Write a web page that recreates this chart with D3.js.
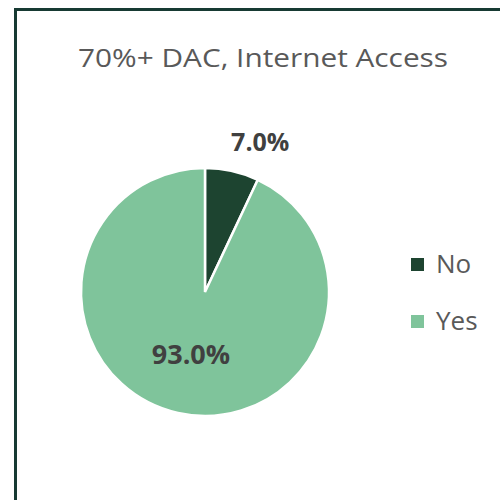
<!DOCTYPE html>
<html>
<head>
<meta charset="utf-8">
<script src="https://cdn.jsdelivr.net/npm/d3@7"></script>
<style>
  body { margin: 0; background: #fff; }
  text { font-family: "Open Sans", "Liberation Sans", sans-serif; }
</style>
</head>
<body>
<script>
// data
const categories = ['No', 'Yes'];
const values = [7.0, 93.0];
const colors = ['#1d4430', '#7fc49b'];
const title = '70%+ DAC, Internet Access';

const W = 500, H = 500;
const svg = d3.select('body').append('svg')
    .attr('width', W)
    .attr('height', H);

// chart frame (runs past the right/bottom edge)
svg.append('rect')
    .attr('x', 15.5).attr('y', 9.5)
    .attr('width', 520).attr('height', 520)
    .attr('fill', '#fff')
    .attr('stroke', '#173a33')
    .attr('stroke-width', 3);

svg.append('text')
    .attr('x', 78).attr('y', 67)
    .attr('font-size', 25)
    .attr('fill', '#595959')
    .attr('textLength', 370)
    .attr('lengthAdjust', 'spacingAndGlyphs')
    .text(title);

const cx = 205, cy = 292, r = 124;
const data = categories.map((c, i) => ({ cat: c, val: values[i], color: colors[i] }));

const pie = d3.pie().sort(null).value(d => d.val);
const arc = d3.arc().innerRadius(0).outerRadius(r);
const arcs = pie(data);

const g = svg.append('g').attr('transform', `translate(${cx},${cy})`);
g.selectAll('path')
    .data(arcs)
    .join('path')
    .attr('d', arc)
    .attr('fill', d => d.data.color)
    .attr('stroke', '#fff')
    .attr('stroke-width', 2.5);

// labels: No outside (box anchored at the rim), Yes inside
const fmt = v => v.toFixed(1) + '%';
const outArc = d3.arc().innerRadius(r + 14).outerRadius(r + 14);
const inArc = d3.arc().innerRadius(r * 0.52).outerRadius(r * 0.52);
g.selectAll('text.lbl')
    .data(arcs)
    .join('text')
    .attr('class', 'lbl')
    .attr('transform', (d, i) => {
        if (i === 0) {
            const p = outArc.centroid(d);
            return `translate(${p[0] - 4},${p[1] - 6})`;
        }
        const p = inArc.centroid(d);
        return `translate(${p})`;
    })
    .attr('text-anchor', (d, i) => i === 0 ? 'start' : 'middle')
    .attr('dy', (d, i) => i === 0 ? 0 : '0.35em')
    .attr('font-size', (d, i) => i === 0 ? 25 : 27)
    .attr('font-weight', 'bold')
    .attr('fill', '#404040')
    .text(d => fmt(d.data.val));

// legend
const legend = svg.append('g').attr('transform', 'translate(411,264)');
const item = legend.selectAll('g')
    .data(data)
    .join('g')
    .attr('transform', (d, i) => `translate(0,${i * 57})`);
item.append('rect')
    .attr('x', 0).attr('y', -6)
    .attr('width', 13).attr('height', 13)
    .attr('fill', d => d.color);
item.append('text')
    .attr('x', 25).attr('y', 0)
    .attr('dy', '0.35em')
    .attr('font-size', 26)
    .attr('fill', '#595959')
    .text(d => d.cat);
</script>
</body>
</html>
